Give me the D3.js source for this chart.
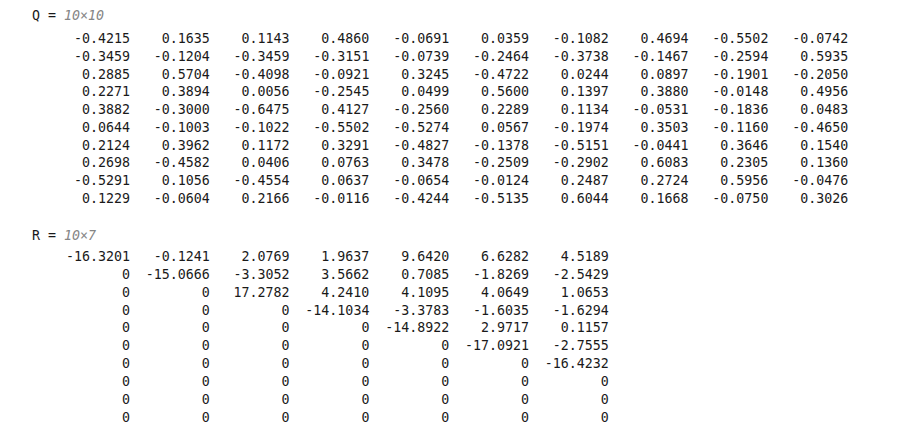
<!DOCTYPE html>
<html>
<head>
<meta charset="utf-8">
<script src="https://cdn.jsdelivr.net/npm/d3@7"></script>
<style>
  body { margin: 0; background: #fff; }
  text { font-family: "DejaVu Sans Mono", "Liberation Mono", monospace; font-size: 13.3px; fill: #1a1a1a; }
  .dims { font-style: italic; fill: #858585; }
</style>
</head>
<body>
<svg width="902" height="442"></svg>
<script>
// matrix Q (10x10)
var qName = "Q", qSize = "10\u00d710"
var Q = [
  [-0.4215, 0.1635, 0.1143, 0.4860, -0.0691, 0.0359, -0.1082, 0.4694, -0.5502, -0.0742],
  [-0.3459, -0.1204, -0.3459, -0.3151, -0.0739, -0.2464, -0.3738, -0.1467, -0.2594, 0.5935],
  [0.2885, 0.5704, -0.4098, -0.0921, 0.3245, -0.4722, 0.0244, 0.0897, -0.1901, -0.2050],
  [0.2271, 0.3894, 0.0056, -0.2545, 0.0499, 0.5600, 0.1397, 0.3880, -0.0148, 0.4956],
  [0.3882, -0.3000, -0.6475, 0.4127, -0.2560, 0.2289, 0.1134, -0.0531, -0.1836, 0.0483],
  [0.0644, -0.1003, -0.1022, -0.5502, -0.5274, 0.0567, -0.1974, 0.3503, -0.1160, -0.4650],
  [0.2124, 0.3962, 0.1172, 0.3291, -0.4827, -0.1378, -0.5151, -0.0441, 0.3646, 0.1540],
  [0.2698, -0.4582, 0.0406, 0.0763, 0.3478, -0.2509, -0.2902, 0.6083, 0.2305, 0.1360],
  [-0.5291, 0.1056, -0.4554, 0.0637, -0.0654, -0.0124, 0.2487, 0.2724, 0.5956, -0.0476],
  [0.1229, -0.0604, 0.2166, -0.0116, -0.4244, -0.5135, 0.6044, 0.1668, -0.0750, 0.3026]
]

// matrix R (10x7)
var rName = "R", rSize = "10\u00d77"
var R = [
  [-16.3201, -0.1241, 2.0769, 1.9637, 9.6420, 6.6282, 4.5189],
  [0, -15.0666, -3.3052, 3.5662, 0.7085, -1.8269, -2.5429],
  [0, 0, 17.2782, 4.2410, 4.1095, 4.0649, 1.0653],
  [0, 0, 0, -14.1034, -3.3783, -1.6035, -1.6294],
  [0, 0, 0, 0, -14.8922, 2.9717, 0.1157],
  [0, 0, 0, 0, 0, -17.0921, -2.7555],
  [0, 0, 0, 0, 0, 0, -16.4232],
  [0, 0, 0, 0, 0, 0, 0],
  [0, 0, 0, 0, 0, 0, 0],
  [0, 0, 0, 0, 0, 0, 0]
]

var fmt = d3.format(".4f")
function show(v) { return v === 0 ? "0" : fmt(v).replace("\u2212", "-") }

var svg = d3.select("svg")

function drawMatrix(name, size, m, titleY, x0, colW, y0, rowH) {
  var xs = d3.scaleLinear().domain([0, 1]).range([x0, x0 + colW])
  var ys = d3.scaleLinear().domain([0, 1]).range([y0, y0 + rowH])

  var t = svg.append("text").attr("x", 32).attr("y", titleY).attr("xml:space", "preserve")
  t.append("tspan").text(name + " = ")
  t.append("tspan").attr("class", "dims").text(size)

  var rows = svg.append("g").selectAll("g").data(m).enter().append("g")
    .attr("transform", function(d, i) { return "translate(0," + ys(i) + ")" })
  rows.selectAll("text").data(function(d) { return d }).enter().append("text")
    .attr("x", function(d, j) { return xs(j) })
    .attr("text-anchor", "end")
    .text(show)
}

drawMatrix(qName, qSize, Q, 20, 130, 79.8, 43, 17.75)
drawMatrix(rName, rSize, R, 240, 130, 79.8, 261, 17.85)
</script>
</body>
</html>
